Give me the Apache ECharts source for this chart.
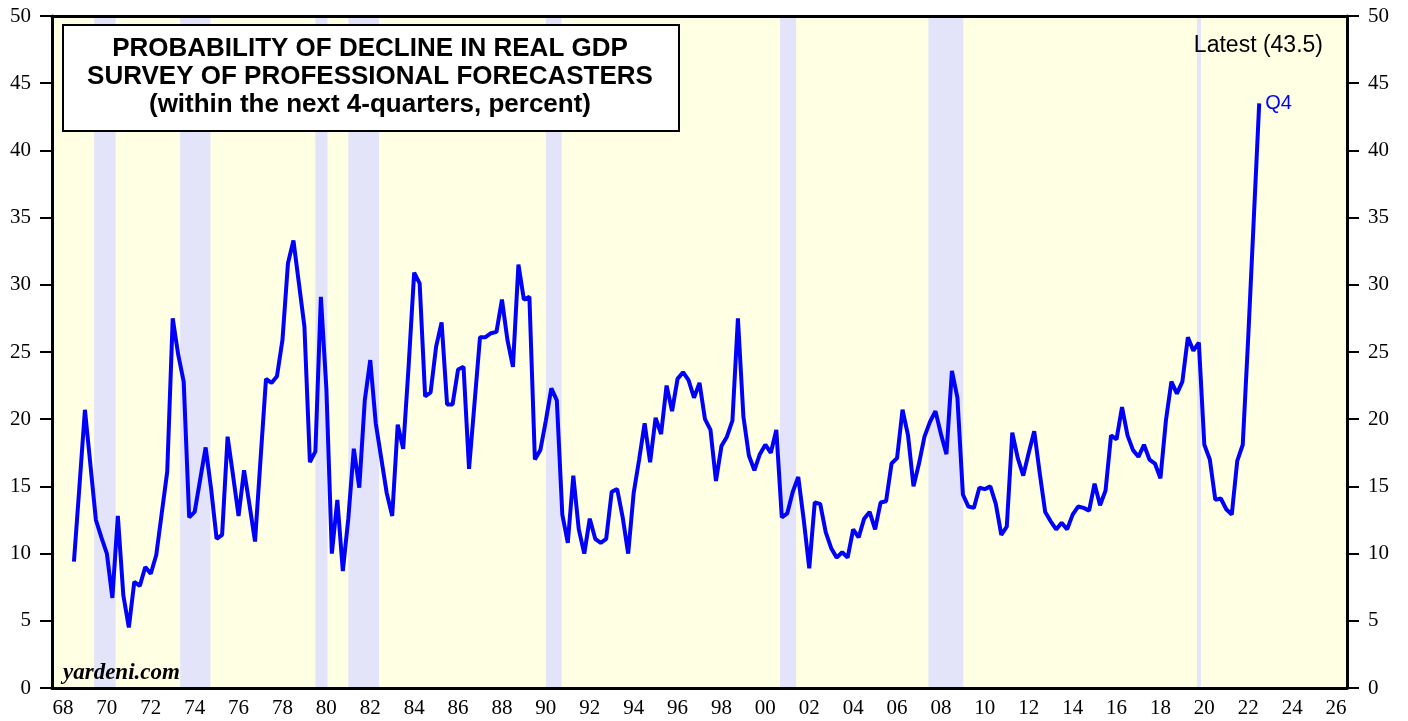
<!DOCTYPE html>
<html>
<head>
<meta charset="utf-8">
<script src="https://cdn.jsdelivr.net/npm/echarts@6/dist/echarts.min.js"></script>
<style>
html, body { margin: 0; padding: 0; background: #fff; }
#chart { width: 1408px; height: 721px; }
</style>
</head>
<body>
<div id="chart"></div>
<script>
// SPF probability of decline in real GDP, quarterly from 1968Q4
var firstYear = 1968;
var firstQuarter = 4;
var probDecline = [
    9.4,
    15.0, 20.7, 16.6, 12.5,   // 69
    11.2, 10.0, 6.7, 12.8,    // 70
    6.9, 4.5, 7.9, 7.6,
    9.0, 8.5, 9.9, 13.0,
    16.1, 27.5, 24.8, 22.8,
    12.7, 13.1, 15.5, 17.9,
    14.8, 11.1, 11.4, 18.7,   // 75
    15.8, 12.8, 16.2, 13.6,
    10.9, 17.0, 23.0, 22.7,
    23.2, 25.9, 31.6, 33.3,
    30.1, 26.9, 16.8, 17.6,
    29.1, 22.3, 10.0, 14.0,   // 80
    8.7, 12.6, 17.8, 14.9,
    21.4, 24.4, 19.7, 17.1,
    14.5, 12.8, 19.6, 17.8,
    24.0, 30.9, 30.1, 21.7,
    22.0, 25.4, 27.2, 21.1,   // 85
    21.1, 23.7, 23.9, 16.3,
    21.2, 26.1, 26.1, 26.4,
    26.5, 28.9, 25.9, 23.9,
    31.5, 28.9, 29.1, 17.0,
    17.7, 19.9, 22.3, 21.4,   // 90
    12.9, 10.8, 15.8, 11.8,
    10.0, 12.6, 11.1, 10.8,
    11.1, 14.6, 14.8, 12.7,
    10.0, 14.5, 17.0, 19.7,
    16.8, 20.1, 18.9, 22.5,   // 95
    20.6, 23.0, 23.5, 22.9,
    21.6, 22.7, 20.0, 19.2,
    15.4, 18.0, 18.7, 19.9,
    27.5, 20.2, 17.3, 16.2,
    17.4, 18.1, 17.5, 19.2,   // 00
    12.7, 13.0, 14.6, 15.7,
    12.5, 8.9, 13.8, 13.7,
    11.6, 10.4, 9.7, 10.1,
    9.7, 11.8, 11.2, 12.6,
    13.1, 11.8, 13.8, 13.9,   // 05
    16.7, 17.1, 20.7, 18.8,
    15.0, 16.7, 18.7, 19.8,
    20.6, 18.9, 17.4, 23.6,
    21.6, 14.4, 13.5, 13.4,
    14.9, 14.8, 15.0, 13.7,   // 10
    11.4, 12.0, 19.0, 17.1,
    15.8, 17.5, 19.1, 16.0,
    13.1, 12.4, 11.8, 12.3,
    11.8, 12.9, 13.5, 13.4,
    13.2, 15.2, 13.6, 14.7,   // 15
    18.8, 18.5, 20.9, 18.8,
    17.7, 17.2, 18.1, 17.0,
    16.7, 15.6, 19.9, 22.8,
    21.9, 22.8, 26.1, 25.1,
    25.7, 18.1, 17.0, 14.0,   // 20
    14.1, 13.3, 12.9, 16.9,
    18.1, 26.1, 34.8, 43.5    // 22
];

var yearLabels = [
    '68', '69', '70', '71', '72', '73', '74', '75', '76', '77', '78', '79',
    '80', '81', '82', '83', '84', '85', '86', '87', '88', '89',
    '90', '91', '92', '93', '94', '95', '96', '97', '98', '99',
    '00', '01', '02', '03', '04', '05', '06', '07', '08', '09',
    '10', '11', '12', '13', '14', '15', '16', '17', '18', '19',
    '20', '21', '22', '23', '24', '25', '26'
];

// recession periods (decimal years)
var recessions = [
    [1969.92, 1970.90],
    [1973.84, 1975.22],
    [1980.00, 1980.55],
    [1981.50, 1982.90],
    [1990.50, 1991.22],
    [2001.17, 2001.90],
    [2007.93, 2009.52],
    [2020.17, 2020.35]
];

var latestLabel = 'Latest (43.5)';

var points = probDecline.map(function (v, i) {
    return [firstYear + (firstQuarter + i) / 4, v];
});

var chart = echarts.init(document.getElementById('chart'));

var axisFont = { color: '#000', fontFamily: 'Liberation Serif', fontSize: 21 };
var blackLine = { color: '#000', width: 3 };

function yAxisSide(side) {
    return {
        type: 'value',
        position: side,
        min: 0,
        max: 50,
        interval: 5,
        z: 10,
        axisLine: { show: true, onZero: false, lineStyle: blackLine },
        axisTick: { show: true, length: 12, lineStyle: { color: '#000', width: 2 } },
        axisLabel: Object.assign({ margin: 21 }, axisFont),
        splitLine: { show: false }
    };
}

var option = {
    animation: false,
    grid: {
        left: 52, right: 61, top: 16, bottom: 33,
        show: true,
        backgroundColor: '#FFFFE3',
        borderWidth: 0
    },
    xAxis: [
        {
            type: 'category',
            data: yearLabels,
            boundaryGap: true,
            position: 'bottom',
            z: 10,
            axisLine: { onZero: false, lineStyle: blackLine },
            axisTick: { interval: 0, length: 7, lineStyle: { color: '#000', width: 2 } },
            axisLabel: Object.assign({ interval: 1, margin: 10 }, axisFont),
            splitLine: { show: false }
        },
        {
            type: 'value',
            position: 'top',
            min: 1968,
            max: 2027,
            z: 10,
            axisLine: { show: true, onZero: false, lineStyle: blackLine },
            axisTick: { show: false },
            axisLabel: { show: false },
            splitLine: { show: false }
        }
    ],
    yAxis: [yAxisSide('left'), yAxisSide('right')],
    series: [
        {
            type: 'line',
            xAxisIndex: 1,
            yAxisIndex: 0,
            data: points,
            symbol: 'none',
            lineStyle: { color: '#0000FF', width: 4 },
            itemStyle: { color: '#0000FF' },
            endLabel: {
                show: true,
                formatter: 'Q4',
                color: '#0000FF',
                fontFamily: 'Liberation Sans',
                fontSize: 20,
                distance: 6
            },
            markArea: {
                silent: true,
                itemStyle: { color: '#E3E3FA' },
                data: recessions.map(function (r) {
                    return [{ xAxis: r[0] }, { xAxis: r[1] }];
                })
            }
        }
    ],
    graphic: [
        {
            type: 'rect',
            left: 62, top: 24,
            shape: { width: 616, height: 106 },
            style: { fill: '#fff', stroke: '#000', lineWidth: 2 },
            z: 100
        },
        {
            type: 'text',
            x: 370, y: 77,
            z: 101,
            style: {
                text: 'PROBABILITY OF DECLINE IN REAL GDP\nSURVEY OF PROFESSIONAL FORECASTERS\n(within the next 4-quarters, percent)',
                font: 'bold 26px "Liberation Sans"',
                lineHeight: 28,
                fill: '#000',
                textAlign: 'center', align: 'center',
                textVerticalAlign: 'middle', verticalAlign: 'middle'
            }
        },
        {
            type: 'text',
            x: 1323, y: 46,
            z: 101,
            style: {
                text: latestLabel,
                font: '23px "Liberation Sans"',
                fill: '#000',
                textAlign: 'right', align: 'right',
                textVerticalAlign: 'middle', verticalAlign: 'middle'
            }
        },
        {
            type: 'text',
            x: 63, y: 673,
            z: 101,
            style: {
                text: 'yardeni.com',
                font: 'italic bold 23px "Liberation Serif"',
                fill: '#000',
                textAlign: 'left', align: 'left',
                textVerticalAlign: 'middle', verticalAlign: 'middle'
            }
        }
    ]
};

chart.setOption(option);
</script>
</body>
</html>
